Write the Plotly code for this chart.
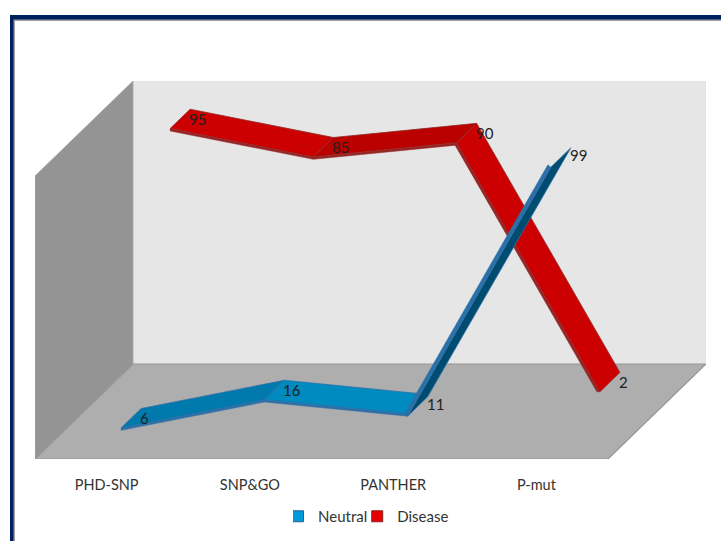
import plotly.graph_objects as go

# Chart data
categories = ["PHD-SNP", "SNP&GO", "PANTHER", "P-mut"]
neutral = [6, 16, 11, 99]
disease = [95, 85, 90, 2]

# Oblique projection: a point at depth d (0 front, 1 back) is shifted along both axes
PX_PER_CAT = 143.25
PX_PER_VAL = 2.83
DX = 98 / PX_PER_CAT
DY = 95 / PX_PER_VAL
Y_MAX = 100
RIBBON_THICK = 0.85
STEEP_SIDE = 3 / PX_PER_CAT
FONT = "Lato"


def project(x, v, d):
    return x + d * DX, v + d * DY


WIDTH, HEIGHT = 721, 541
M_L, M_R, M_T, M_B = 35, 15, 81, 82
PLOT_W = WIDTH - M_L - M_R
PLOT_H = HEIGHT - M_T - M_B


def paper_x(px):
    return (px - M_L) / PLOT_W


def paper_y(py):
    return (HEIGHT - M_B - py) / PLOT_H


fig = go.Figure()


def add_poly(points, fill, line=None, width=0.8):
    xs = [p[0] for p in points] + [points[0][0]]
    ys = [p[1] for p in points] + [points[0][1]]
    fig.add_trace(go.Scatter(
        x=xs, y=ys, mode="lines", fill="toself", fillcolor=fill,
        line=dict(color=line or fill, width=width),
        showlegend=False, hoverinfo="skip", cliponaxis=False,
    ))


# Walls and floor of the 3D box
n_cat = len(categories)
add_poly([project(0, 0, 1), project(n_cat, 0, 1), project(n_cat, Y_MAX, 1), project(0, Y_MAX, 1)],
         "#E6E6E6", "#E0E0E0")
add_poly([project(0, 0, 0), project(0, Y_MAX, 0), project(0, Y_MAX, 1), project(0, 0, 1)],
         "#949494", "#A6A6A6")
add_poly([project(0, 0, 0), project(n_cat, 0, 0), project(n_cat, 0, 1), project(0, 0, 1)],
         "#AEAEAE", "#969696", 1.2)


def add_ribbon(values, d0, d1, faces, side, underside, steep):
    """One flat band per segment, with its front side and, on steep climbs, its underside."""
    for i in range(len(values) - 1):
        x0, x1 = i + 0.5, i + 1.5
        v0, v1 = values[i], values[i + 1]
        drop = RIBBON_THICK if underside[i] else 0
        add_poly([project(x0, v0 - drop, d0), project(x1, v1 - drop, d0),
                  project(x1, v1 - drop, d1), project(x0, v0 - drop, d1)],
                 faces[i], side)
        if steep[i]:
            # Steep segments show the side as a band leaning left of the face
            add_poly([project(x0 - STEEP_SIDE, v0, d0), project(x1 - STEEP_SIDE, v1, d0),
                      project(x1, v1 - drop, d0), project(x0, v0 - drop, d0)],
                     side, side, 0.5)
        else:
            add_poly([project(x0, v0, d0), project(x1, v1, d0),
                      project(x1, v1 - RIBBON_THICK, d0), project(x0, v0 - RIBBON_THICK, d0)],
                     side, side, 0.5)


add_ribbon(disease, 0.648, 0.852, ["#CC0000", "#BB0000", "#CC0000"], "#962626",
           [False, False, False], [False, False, True])
add_ribbon(neutral, 0.148, 0.352, ["#0079AC", "#008BC0", "#004C70"], "#2C70A8",
           [False, False, True], [False, False, True])

# Legend entries
fig.add_trace(go.Scatter(x=[None], y=[None], mode="markers", name="Neutral",
                         marker=dict(symbol="square", size=11, color="#0099DD",
                                     line=dict(color="#2F5F90", width=1))))
fig.add_trace(go.Scatter(x=[None], y=[None], mode="markers", name="Disease",
                         marker=dict(symbol="square", size=11, color="#E80000",
                                     line=dict(color="#8A2020", width=1))))

# Value labels at the centre of each ribbon point
annotations = []
for values, depth in ((disease, 0.75), (neutral, 0.25)):
    for i, v in enumerate(values):
        px, py = project(i + 0.5, v, depth)
        annotations.append(dict(
            x=px, y=py, xref="x", yref="y", text=str(v), showarrow=False,
            xanchor="left", yanchor="middle", xshift=7, yshift=0,
            font=dict(family=FONT, size=15, color="#1F1F1F"),
        ))

# Slide frame behind the chart
shapes = []
for left, top, color in ((10, 15, "#002060"), (13.5, 19.5, "#A0A0A0"), (15, 21, "#FFFFFF")):
    shapes.append(dict(type="rect", xref="paper", yref="paper", layer="below",
                       x0=paper_x(left), x1=paper_x(WIDTH + 20),
                       y0=paper_y(top), y1=paper_y(HEIGHT + 20),
                       fillcolor=color, line=dict(width=0)))

fig.update_layout(
    width=WIDTH, height=HEIGHT,
    margin=dict(l=M_L, r=M_R, t=M_T, b=M_B, pad=0, autoexpand=False),
    paper_bgcolor="#FFFFFF", plot_bgcolor="rgba(0,0,0,0)",
    font=dict(family=FONT, size=14.5, color="#333333"),
    showlegend=True,
    legend=dict(orientation="h", x=paper_x(293), y=paper_y(500), xanchor="left", yanchor="top",
                bgcolor="rgba(0,0,0,0)", font=dict(size=15), traceorder="normal",
                indentation=-15, itemwidth=30),
    xaxis=dict(range=[0, n_cat + DX], tickmode="array",
               tickvals=[i + 0.5 for i in range(n_cat)], ticktext=categories,
               showgrid=False, zeroline=False, showline=False, ticks="",
               ticklabelstandoff=15, fixedrange=True),
    yaxis=dict(range=[0, Y_MAX + DY], visible=False, fixedrange=True),
    shapes=shapes, annotations=annotations,
)

fig.write_html("out.html", config={"displayModeBar": False})
